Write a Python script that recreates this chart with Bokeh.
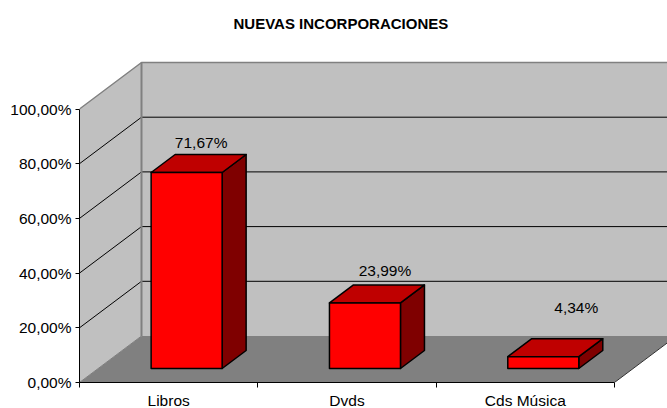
from bokeh.plotting import figure
from bokeh.models import Range1d, FixedTicker, LinearAxis, Title
from bokeh.embed import file_html
from bokeh.resources import INLINE
from bokeh.core.properties import value

title = "NUEVAS INCORPORACIONES"
categories = ["Libros", "Dvds", "Cds Música"]
values = [71.67, 23.99, 4.34]
value_labels = ["71,67%", "23,99%", "4,34%"]
y_ticks = [0, 20, 40, 60, 80, 100]
y_tick_labels = ["0,00%", "20,00%", "40,00%", "60,00%", "80,00%", "100,00%"]

FONT = "Liberation Sans"
FS = "15.5px"
W, H = 667, 408
LEFT, BOTTOM, TOP = 79, 26, 40
PX_X = 178.33           # pixels per category
PX_Y = 2.735            # pixels per percent
DEPTH_X = 62 / PX_X     # full depth, in x units
DEPTH_Y = 46.5 / PX_Y   # full depth, in y units
BAR_W = 71 / PX_X
BAR_SHIFT = -0.7 / PX_X
BAR_D0 = 14 / 46.5      # bar front, as fraction of depth
BAR_D = 18 / 46.5       # bar depth, as fraction of depth

p = figure(frame_width=W - LEFT, frame_height=H - BOTTOM - TOP,
           output_backend="svg", toolbar_location=None,
           x_range=Range1d(0, (W - LEFT) / PX_X),
           y_range=Range1d(0, (H - BOTTOM - TOP) / PX_Y),
           x_axis_type=None, y_axis_type=None,
           min_border_left=LEFT, min_border_right=0,
           min_border_top=TOP, min_border_bottom=BOTTOM)
p.outline_line_color = None
p.xgrid.visible = False
p.ygrid.visible = False
p.background_fill_color = "white"

t = Title(text=title, align="left", offset=154, text_font=FONT,
          text_font_size="15px", text_font_style="bold", text_color="black",
          standoff=17)
p.add_layout(t, "above")

n = len(categories)
WALL, FLOOR, EDGE = "#C0C0C0", "#808080", "#808080"

# walls and floor
p.patch([0, DEPTH_X, DEPTH_X, 0], [0, DEPTH_Y, 100 + DEPTH_Y, 100], fill_color=WALL, line_color=None)
p.patch([DEPTH_X, n + DEPTH_X, n + DEPTH_X, DEPTH_X], [DEPTH_Y, DEPTH_Y, 100 + DEPTH_Y, 100 + DEPTH_Y],
        fill_color=WALL, line_color=None)
p.patch([0, n, n + DEPTH_X, DEPTH_X], [0, 0, DEPTH_Y, DEPTH_Y], fill_color=FLOOR, line_color=None)

# gridlines
grid = [t_ for t_ in y_ticks if 0 < t_ < 100]
p.multi_line([[0, DEPTH_X, n + DEPTH_X] for _ in grid],
             [[g, g + DEPTH_Y, g + DEPTH_Y] for g in grid], line_color="black", line_width=1)

# wall edges
p.line([0, DEPTH_X, n + DEPTH_X], [100, 100 + DEPTH_Y, 100 + DEPTH_Y], line_color=EDGE, line_width=1.5)
p.line([DEPTH_X, DEPTH_X], [DEPTH_Y, 100 + DEPTH_Y], line_color=EDGE, line_width=2)
p.line([0, DEPTH_X], [0, DEPTH_Y], line_color=EDGE, line_width=1)
p.line([n, n + DEPTH_X], [0, DEPTH_Y], line_color="#333333", line_width=1)

# bars
label_dx = [14.5, 20, 33]
label_dy = [12, 14, 31]
for i, v in enumerate(values):
    x0 = i + 0.5 - BAR_W / 2 + BAR_D0 * DEPTH_X + BAR_SHIFT
    x1 = x0 + BAR_W
    y0 = BAR_D0 * DEPTH_Y
    y1 = y0 + v
    dx = BAR_D * DEPTH_X
    dy = BAR_D * DEPTH_Y
    kw = dict(line_color="black", line_width=1.5, line_join="round")
    p.patch([x1, x1 + dx, x1 + dx, x1], [y0, y0 + dy, y1 + dy, y1], fill_color="#7F0000", **kw)
    p.patch([x0, x0 + dx, x1 + dx, x1], [y1, y1 + dy, y1 + dy, y1], fill_color="#BF0000", **kw)
    p.patch([x0, x1, x1, x0], [y0, y0, y1, y1], fill_color="#FF0000", **kw)
    p.text([(x0 + x1) / 2 + label_dx[i] / PX_X], [y1 + dy + label_dy[i] / PX_Y], text=[value_labels[i]],
           text_font=value(FONT), text_font_size=FS, text_color="black",
           text_align="center", text_baseline="middle")

# axes
ya = LinearAxis(ticker=FixedTicker(ticks=y_ticks), bounds=(0, 100),
                major_label_overrides=dict(zip(y_ticks, y_tick_labels)),
                major_label_text_font=FONT, major_label_text_font_size=FS,
                major_label_text_color="black", major_label_standoff=4,
                major_tick_out=4, major_tick_in=0, minor_tick_line_color=None,
                axis_line_color="black", major_tick_line_color="black")
p.add_layout(ya, "left")

centers = [i + 0.5 for i in range(n)]
xa = LinearAxis(ticker=FixedTicker(ticks=centers, minor_ticks=list(range(n + 1))), bounds=(0, n),
                major_label_overrides=dict(zip(centers, categories)),
                major_label_text_font=FONT, major_label_text_font_size=FS,
                major_label_text_color="black", major_label_standoff=3,
                major_tick_line_color=None, minor_tick_out=5, minor_tick_in=0,
                minor_tick_line_color="black", axis_line_color="black")
p.add_layout(xa, "below")

open("out.html", "w").write(file_html(p, INLINE))
